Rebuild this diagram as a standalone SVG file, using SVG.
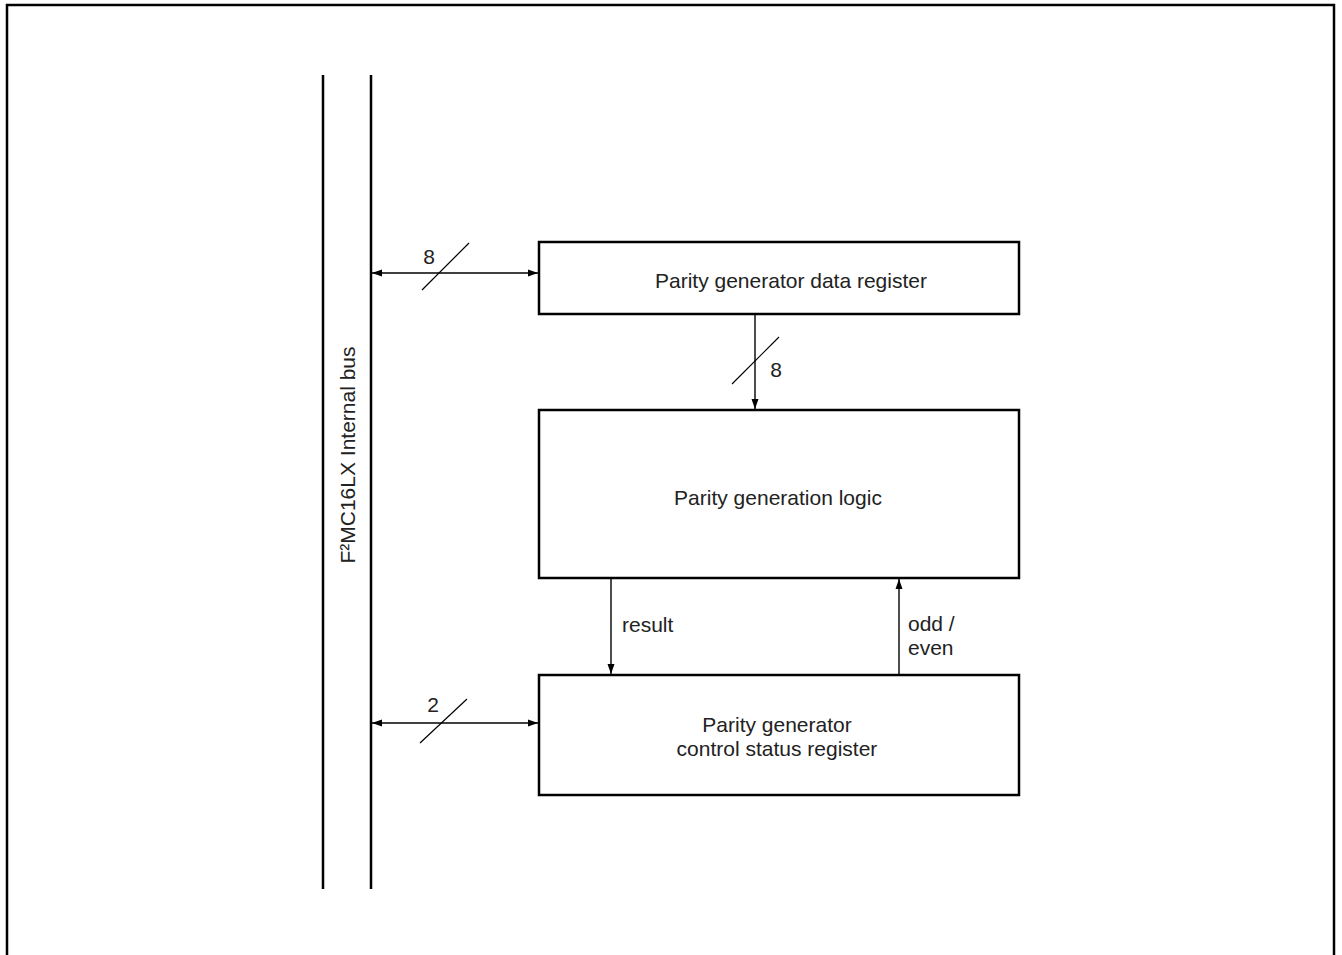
<svg xmlns="http://www.w3.org/2000/svg" width="1342" height="955" viewBox="0 0 1342 955">
<defs>
<style>
text{font-family:"Liberation Sans",Arial,sans-serif;font-size:21px;fill:#222}
.box{fill:#fff;stroke:#000;stroke-width:2.5}
.bus{stroke:#000;stroke-width:2.5}
.conn{stroke:#000;stroke-width:1.4;fill:none}
.slash{stroke:#000;stroke-width:1.2}
</style>
<marker id="ah" viewBox="0 0 10 10" refX="10" refY="5" markerWidth="10" markerHeight="12" markerUnits="userSpaceOnUse" orient="auto-start-reverse"><path d="M0,1.5 L10,5 L0,8.5 Z" fill="#000"/></marker>
<marker id="ah2" viewBox="0 0 10 10" refX="10" refY="5" markerWidth="14" markerHeight="10" markerUnits="userSpaceOnUse" orient="auto-start-reverse"><path d="M0,1.5 L10,5 L0,8.5 Z" fill="#000"/></marker>
</defs>
<rect x="0" y="0" width="1342" height="955" fill="#fff"/>
<path d="M7,960 V5 H1334 V960" fill="none" stroke="#000" stroke-width="2.5"/>
<g id="bus">
<line class="bus" x1="323" y1="75" x2="323" y2="889"/>
<line class="bus" x1="371" y1="75" x2="371" y2="889"/>
<text transform="translate(355,455) rotate(-90)" text-anchor="middle">F²MC16LX Internal bus</text>
</g>
<g id="data-register">
<rect class="box" x="539" y="242" width="480" height="72"/>
<text x="791" y="288" text-anchor="middle">Parity generator data register</text>
</g>
<g id="logic">
<rect class="box" x="539" y="410" width="480" height="168"/>
<text x="778" y="505" text-anchor="middle">Parity generation logic</text>
</g>
<g id="control-register">
<rect class="box" x="539" y="675" width="480" height="120"/>
<text x="777" y="732" text-anchor="middle">Parity generator</text>
<text x="777" y="756" text-anchor="middle">control status register</text>
</g>
<g id="connectors">
<line class="conn" x1="372" y1="273" x2="538" y2="273" marker-start="url(#ah2)" marker-end="url(#ah2)"/>
<line class="slash" x1="422" y1="290" x2="469" y2="243"/>
<text x="429" y="264" text-anchor="middle">8</text>
<line class="conn" x1="372" y1="723" x2="538" y2="723" marker-start="url(#ah2)" marker-end="url(#ah2)"/>
<line class="slash" x1="420" y1="743" x2="467" y2="699"/>
<text x="433" y="712" text-anchor="middle">2</text>
<line class="conn" x1="755" y1="315" x2="755" y2="409" marker-end="url(#ah)"/>
<line class="slash" x1="732" y1="384" x2="779" y2="337"/>
<text x="776" y="377" text-anchor="middle">8</text>
<line class="conn" x1="611" y1="579" x2="611" y2="674" marker-end="url(#ah)"/>
<text x="622" y="632">result</text>
<line class="conn" x1="899" y1="674" x2="899" y2="579" marker-end="url(#ah)"/>
<text x="908" y="631">odd /</text>
<text x="908" y="655">even</text>
</g>
</svg>
